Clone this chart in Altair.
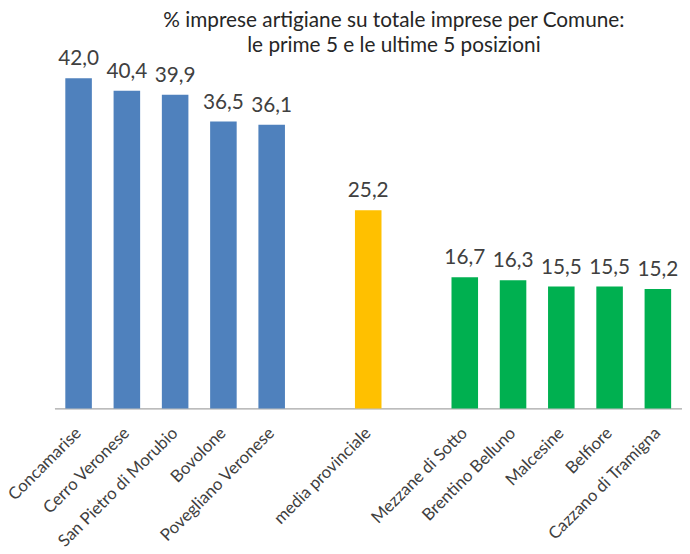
import altair as alt
import pandas as pd

comuni = ["Concamarise", "Cerro Veronese", "San Pietro di Morubio", "Bovolone",
          "Povegliano Veronese", "media provinciale", "Mezzane di Sotto",
          "Brentino Belluno", "Malcesine", "Belfiore", "Cazzano di Tramigna"]
valori = [42.0, 40.4, 39.9, 36.5, 36.1, 25.2, 16.7, 16.3, 15.5, 15.5, 15.2]
gruppi = ["prime"] * 5 + ["media"] + ["ultime"] * 5
etichette = [f"{v:.1f}".replace(".", ",") for v in valori]

ordine = comuni[:5] + [" "] + [comuni[5]] + ["  "] + comuni[6:]

df = pd.DataFrame({"comune": comuni, "valore": valori, "gruppo": gruppi, "etichetta": etichette})

font = "Lato"

x = alt.X("comune:N", sort=ordine,
          scale=alt.Scale(domain=ordine, paddingInner=0.45, paddingOuter=0.225),
          axis=alt.Axis(title=None, labelAngle=-45, labelAlign="right", labelBaseline="middle",
                        labelFontSize=17, labelFont=font, labelColor="#404040", labelPadding=22,
                        labelLimit=300, ticks=False, domainColor="#A6A6A6", domainWidth=1.2,
                        grid=False))
y = alt.Y("valore:Q", scale=alt.Scale(domain=[0, 45], nice=False), axis=None)

bars = alt.Chart(df).mark_bar().encode(
    x=x, y=y,
    color=alt.Color("gruppo:N",
                    scale=alt.Scale(domain=["prime", "media", "ultime"],
                                    range=["#4F81BD", "#FFC000", "#00B050"]),
                    legend=None),
)

text = alt.Chart(df).mark_text(baseline="alphabetic", dy=-13, fontSize=21, font=font,
                               color="#404040").encode(
    x=alt.X("comune:N", sort=ordine), y=y, text="etichetta:N")

chart = alt.layer(bars, text).properties(
    width=635, height=358,
    padding={"left": 47, "top": 44, "right": 0, "bottom": 140},
    autosize=alt.AutoSizeParams(type="none"),
    title=alt.TitleParams(
        text=["% imprese artigiane su totale imprese per Comune:",
              "le prime 5 e le ultime 5 posizioni"],
        anchor="middle", frame="group", dx=26, offset=-7,
        fontSize=21, font=font, fontWeight="normal", color="#262626", lineHeight=25),
).configure_view(stroke=None)

chart.save("out.html", embed_options={"renderer": "svg", "actions": False})
